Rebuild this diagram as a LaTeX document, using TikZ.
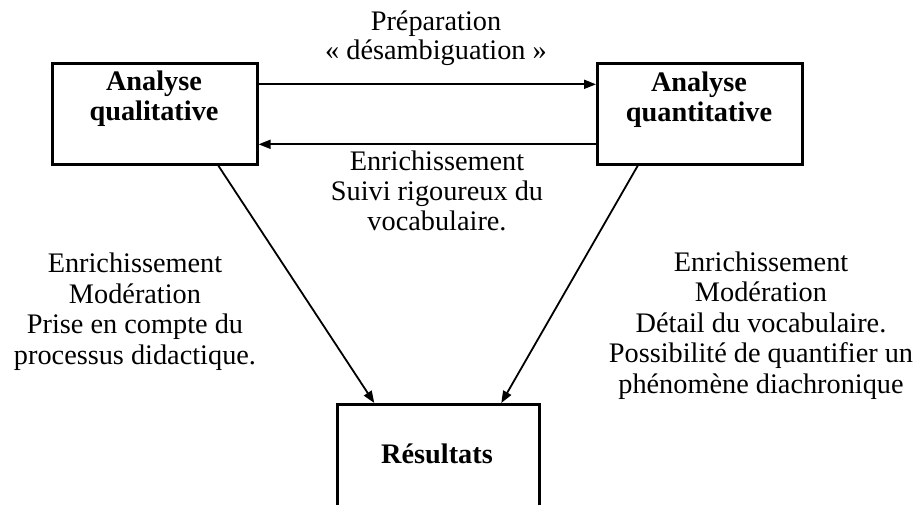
\documentclass[tikz,border=0pt]{standalone}
\usepackage{fontspec}
\setmainfont{Liberation Serif}
\usetikzlibrary{arrows.meta}
\begin{document}
\begin{tikzpicture}[x=1pt,y=-1pt,
  every node/.style={font=\fontsize{28.3}{30.5}\selectfont, inner sep=0pt, align=center},
  boxframe/.style={draw=black, line width=2.6pt, anchor=north west, minimum width=205pt, minimum height=101pt},
  boxlabel/.style={font=\fontsize{28.3}{30}\selectfont\bfseries, anchor=base},
  note/.style={anchor=base},
  link/.style={draw=black, line width=1.8pt, -{Triangle[length=12pt,width=9pt]}}]
  \useasboundingbox (0,0) rectangle (918,504);

  % the three boxes
  \node[boxframe] (qual) at (51,62) {};
  \node[boxframe] (quant) at (596,62) {};
  \node[boxframe, minimum width=202pt, minimum height=104pt] (res) at (336,403) {};

  % box titles (base anchor sits on the last line)
  \node[boxlabel] (qualtxt) at (154,120) {Analyse\\qualitative};
  \node[boxlabel] (quanttxt) at (699,121) {Analyse\\quantitative};
  \node[boxlabel] (restxt) at (437,463) {Résultats};

  % connectors
  \draw[link] ([yshift=29.5pt]qual.east) -- ([yshift=29.5pt]quant.west);
  \draw[link] ([yshift=-30.5pt]quant.west) -- ([yshift=-30.5pt]qual.east);
  \draw[link] ([xshift=63.5pt]qual.south) -- ([xshift=-64pt]res.north);
  \draw[link] ([xshift=-62pt]quant.south) -- ([xshift=63pt]res.north);

  % connector labels
  \node[note, font=\fontsize{28.3}{29}\selectfont] (prep) at (436,59) {Préparation\\« désambiguation »};
  \node[note, font=\fontsize{28.3}{30}\selectfont] (suivi) at (437,230) {Enrichissement\\Suivi rigoureux du\\vocabulaire.};
  \node[note] (left) at (135,364) {Enrichissement\\Modération\\Prise en compte du\\processus didactique.};
  \node[note] (right) at (761,393) {Enrichissement\\Modération\\Détail du vocabulaire.\\Possibilité de quantifier un\\phénomène diachronique};
\end{tikzpicture}
\end{document}
